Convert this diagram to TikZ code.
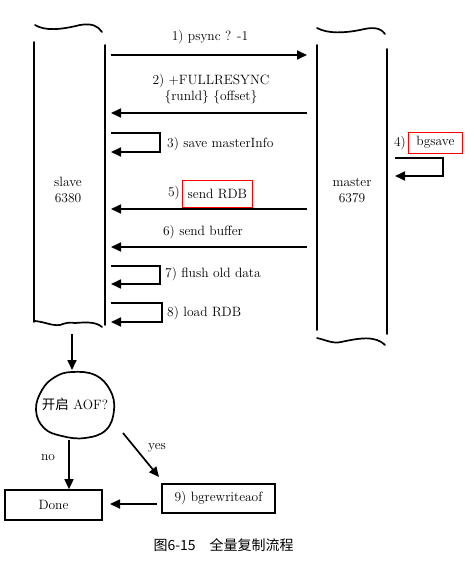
\documentclass[tikz,border=0pt]{standalone}
\usepackage{fontspec}
\newfontfamily\cjk{Noto Sans CJK SC}
\usetikzlibrary{arrows.meta}

\tikzset{
  life/.style={line width=1.7pt,line cap=round},
  msg/.style={line width=1.7pt,-{Triangle[length=10pt,width=9pt]}},
  lbl/.style={inner sep=1pt,font=\fontsize{13.5}{16}\selectfont},
  hilite/.style={draw=red,line width=0.8pt,inner sep=0pt},
  endbox/.style={draw,line width=1.7pt,inner sep=0pt}
}

\begin{document}
\begin{tikzpicture}[x=1pt,y=-1pt]
\useasboundingbox[fill=white] (0,0) rectangle (473,561);
% slave column
\draw[life] (34,42)--(34,322) (105,45)--(105,325);
\draw[life] (35,25) .. controls (45,31) and (60,30) .. (80,25) .. controls (92,23) and (98,26) .. (102,32);
\draw[life] (35,321) .. controls (45,322) and (52,326) .. (60,325) .. controls (65,323) and (70,322) .. (75,323) .. controls (88,322) and (96,322) .. (102,327);
\node[lbl,align=center] (slave) at (68,190) {slave\\6380};
% master column
\draw[life] (317,45)--(317,330) (387,49)--(387,334);
\draw[life] (317,28) .. controls (328,34) and (345,33) .. (360,30) .. controls (372,27) and (380,27) .. (385,34);
\draw[life] (317,338) .. controls (326,340) and (333,344) .. (341,342) .. controls (350,340) and (365,337) .. (373,339) .. controls (379,340) and (383,343) .. (385,345);
\node[lbl,align=center] (master) at (352,190) {master\\6379};

\foreach \n/\y in {1/55,2/113,5/209,6/247}{
  \coordinate (s\n) at (111,\y);
  \coordinate (m\n) at (307,\y);
}
\foreach \n/\y in {3/133,7/266,8/303}{\coordinate (s\n) at (111,\y);}
\coordinate (m4) at (395,158);

% messages
\draw[msg] (s1) -- (m1);
\node[lbl] (t1) at (210,37) {1) psync ? -1};
\draw[msg] (m2) -- (s2);
\node[lbl,align=center] (t2) at (211,89) {2) +FULLRESYNC\\\{runld\} \{offset\}};
\draw[msg] (s3) -- ++(49,0) -- ++(0,19) -- ++(-49,0);
\node[lbl,anchor=west] (t3) at (166,144) {3) save masterInfo};
\draw[msg] (m4) -- ++(48,0) -- ++(0,18) -- ++(-48,0);
\node[lbl,anchor=east] (n4) at (407,143) {4)};
\node[lbl,hilite,minimum width=54,minimum height=21,anchor=west] (t4) at (408,142.5) {bgsave};
\draw[msg] (m5) -- (s5);
\node[lbl,anchor=east] (n5) at (181,193) {5)};
\node[lbl,hilite,minimum width=70,minimum height=27,anchor=west] (t5) at (182,193.5) {send RDB};
\draw[msg] (m6) -- (s6);
\node[lbl] (t6) at (203,232) {6) send buffer};
\draw[msg] (s7) -- ++(49,0) -- ++(0,18) -- ++(-49,0);
\node[lbl,anchor=west] (t7) at (164,274) {7) flush old data};
\draw[msg] (s8) -- ++(51,0) -- ++(0,19) -- ++(-51,0);
\node[lbl,anchor=west] (t8) at (166,313) {8) load RDB};

% AOF decision
\coordinate (sb) at (72,334);
\coordinate (aoftop) at (72,370);
\node[lbl,minimum width=78,minimum height=68] (aof) at (75,404) {{\cjk 开启} AOF?};
\draw[life] plot[smooth cycle,tension=0.7] coordinates {(72,372) (95,375) (110,390) (114,410) (106,430) (85,438) (62,436) (44,428) (36,410) (42,390) (55,377)};
\draw[msg] (sb) -- (aoftop);
\node[lbl,endbox,minimum width=97,minimum height=30] (done) at (53.5,505) {Done};
\node[lbl,endbox,minimum width=113,minimum height=29] (rw) at (218.5,498.5) {9) bgrewriteaof};
\coordinate (no0) at (69,440);
\coordinate (yes0) at (123,433);
\coordinate (yes1) at (159,477);
\coordinate (rw0) at (157,504);
\coordinate (done0) at (110,504);
\draw[msg] (no0) -- (done.north -| no0);
\node[lbl] (no) at (48,458) {no};
\draw[msg] (yes0) -- (yes1);
\node[lbl] (yes) at (157,448) {yes};
\draw[msg] (rw0) -- (done0);

\node[font=\cjk\fontsize{14}{16}\selectfont,anchor=west] (cap) at (150,545) {图6-15\quad 全量复制流程};
\end{tikzpicture}
\end{document}
